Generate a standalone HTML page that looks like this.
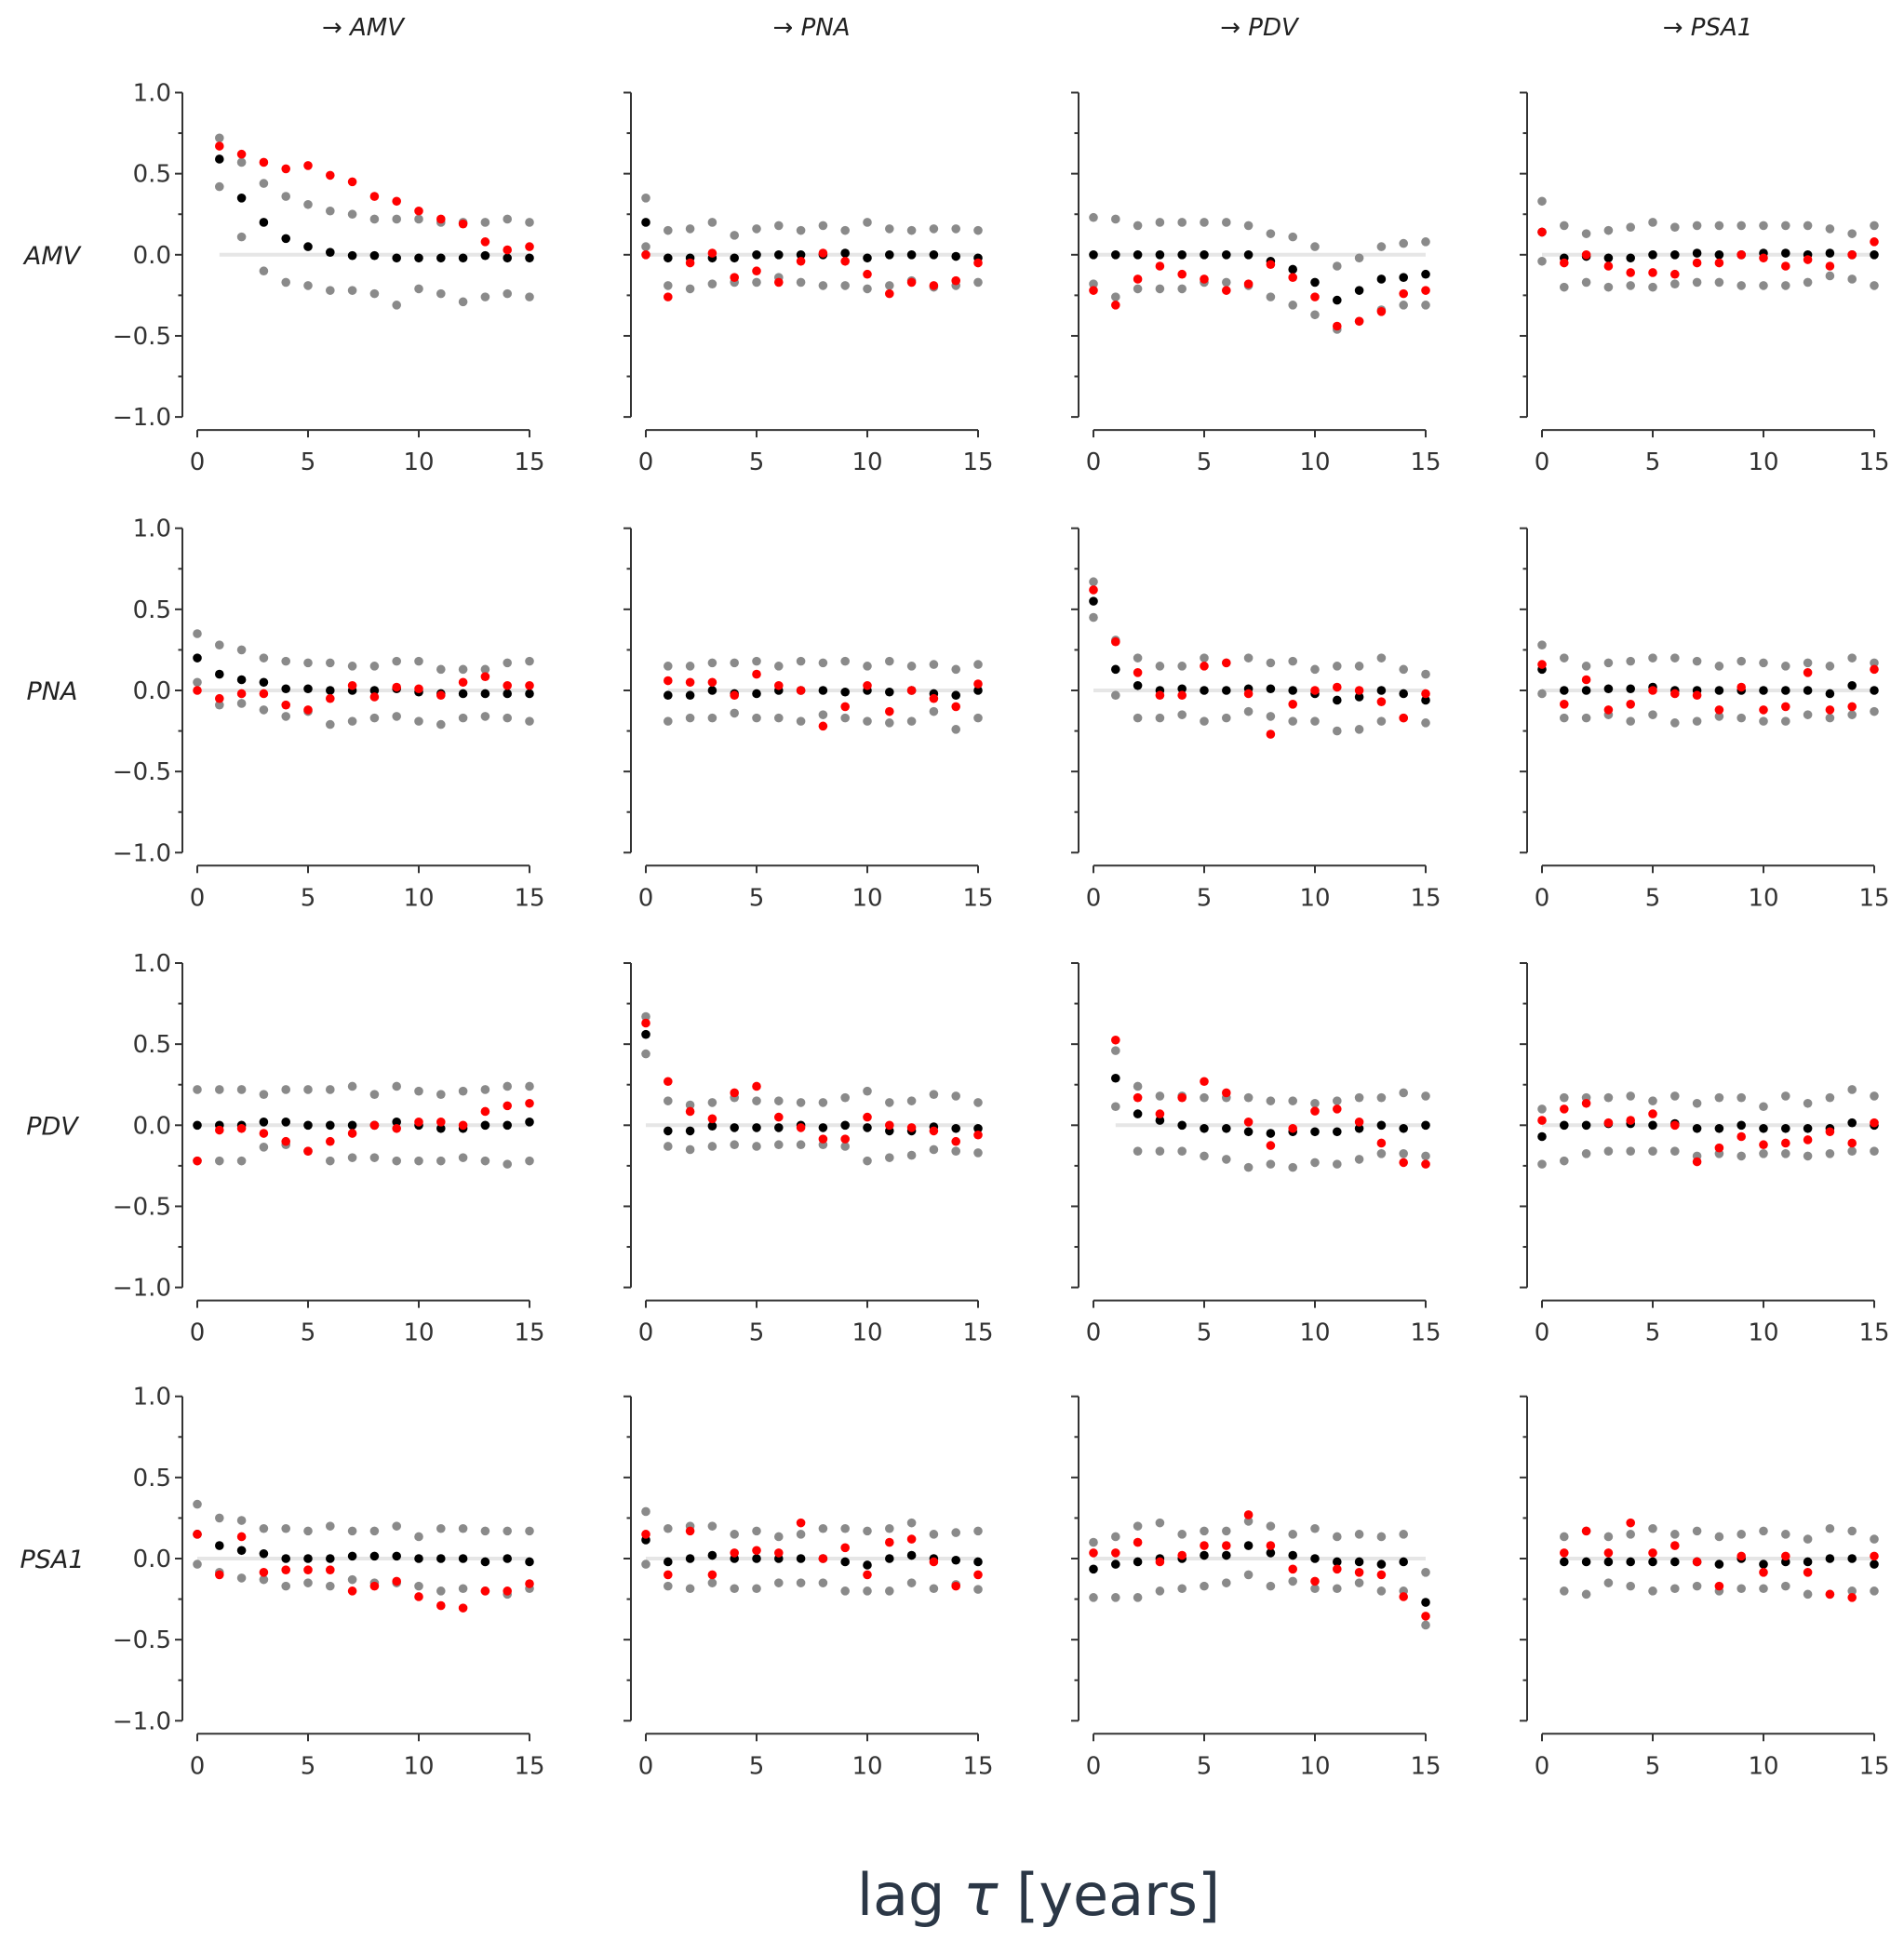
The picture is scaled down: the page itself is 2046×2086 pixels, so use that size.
<!DOCTYPE html>
<html><head><meta charset="utf-8"><style>
html,body{margin:0;padding:0;background:#fff;}
svg{display:block;}
.tick{font-family:"DejaVu Sans","Liberation Sans",sans-serif;font-size:26px;fill:#333;}
</style></head><body>
<svg id="chart" width="2046" height="2086" viewBox="0 0 2046 2086" xmlns="http://www.w3.org/2000/svg">
<text x="1116" y="2058" text-anchor="middle" font-family="DejaVu Sans, Liberation Sans, sans-serif" font-size="62" fill="#2b3746">lag <tspan font-style="italic">τ</tspan> [years]</text>
</svg>
<script>
const names = ["AMV","PNA","PDV","PSA1"];
const yTicks = [1.0,0.5,0.0,-0.5,-1.0];
const yTickLabels = ["1.0","0.5","0.0","\u22120.5","\u22121.0"];
const xTicks = [0,5,10,15];
// lag start per panel (row-major: row = source, col = target)
const lagStart = [1,0,0,0, 0,1,0,0, 0,0,1,0, 0,0,0,1];
const black = [
[0.59,0.35,0.20,0.10,0.05,0.015,-0.005,-0.005,-0.02,-0.02,-0.02,-0.02,-0.005,-0.02,-0.02],
[0.20,-0.02,-0.02,-0.02,-0.02,0,0,0,0,0.01,-0.02,0,0,0,-0.01,-0.02],
[0,0,0,0,0,0,0,0,-0.04,-0.09,-0.17,-0.28,-0.22,-0.15,-0.14,-0.12],
[0.14,-0.02,-0.01,-0.02,-0.02,0,0,0.01,0,0,0.01,0.01,0,0.01,0,0],
[0.20,0.10,0.066,0.05,0.01,0.01,0,0,0,0.01,-0.01,-0.02,-0.02,-0.02,-0.02,-0.02],
[-0.03,-0.03,0,-0.02,-0.02,0,0,0,-0.01,0,-0.01,0,-0.02,-0.03,0],
[0.55,0.13,0.03,0,0.01,0,0,0.01,0.01,0,-0.02,-0.06,-0.04,0,-0.02,-0.06],
[0.13,0,0,0.01,0.01,0.02,0,0,0,0,0,0,0,-0.02,0.03,0],
[0,0,0,0.02,0.02,0,0,0,0,0.02,0,-0.02,-0.02,0,0,0.02],
[0.56,-0.035,-0.035,-0.005,-0.015,-0.015,-0.015,0,-0.015,0,-0.015,-0.035,-0.035,-0.01,-0.02,-0.02],
[0.29,0.07,0.03,0,-0.02,-0.02,-0.04,-0.05,-0.04,-0.04,-0.04,-0.02,0,-0.02,0],
[-0.07,0,0,0.01,0.01,0,0.01,-0.02,-0.02,0,-0.02,-0.02,-0.02,-0.02,0.015,0],
[0.15,0.08,0.05,0.03,0,0,0,0.015,0.015,0.015,0,0,0,-0.02,0,-0.02],
[0.115,-0.02,0,0.02,0,0,0,0,0,-0.02,-0.04,0,0.02,0,-0.01,-0.02],
[-0.065,-0.035,-0.02,0,0,0.02,0.02,0.08,0.035,0.02,0,-0.02,-0.02,-0.035,-0.02,-0.27],
[-0.02,-0.02,-0.02,-0.02,-0.02,-0.02,-0.02,-0.035,0,-0.035,-0.02,-0.02,0,0,-0.035]
];
const red = [
[0.67,0.62,0.57,0.53,0.55,0.49,0.45,0.36,0.33,0.27,0.22,0.19,0.08,0.03,0.05],
[0,-0.26,-0.05,0.01,-0.14,-0.10,-0.17,-0.04,0.01,-0.04,-0.12,-0.24,-0.17,-0.19,-0.16,-0.05],
[-0.22,-0.31,-0.15,-0.07,-0.12,-0.15,-0.22,-0.18,-0.06,-0.14,-0.26,-0.44,-0.41,-0.35,-0.24,-0.22],
[0.14,-0.05,0,-0.07,-0.11,-0.11,-0.12,-0.05,-0.05,0,-0.02,-0.07,-0.03,-0.07,0,0.08],
[0,-0.05,-0.02,-0.02,-0.09,-0.12,-0.05,0.03,-0.04,0.02,0.01,-0.03,0.05,0.085,0.03,0.03],
[0.06,0.05,0.05,-0.03,0.10,0.03,0,-0.22,-0.10,0.03,-0.13,0,-0.05,-0.10,0.04],
[0.62,0.30,0.11,-0.03,-0.03,0.15,0.17,-0.02,-0.27,-0.085,0,0.02,0,-0.07,-0.17,-0.02],
[0.16,-0.085,0.066,-0.12,-0.085,0,-0.02,-0.03,-0.12,0.02,-0.12,-0.10,0.11,-0.12,-0.10,0.13],
[-0.22,-0.03,-0.02,-0.05,-0.10,-0.16,-0.10,-0.05,0,-0.02,0.02,0.02,0,0.085,0.12,0.135],
[0.63,0.27,0.085,0.04,0.20,0.24,0.05,-0.015,-0.085,-0.085,0.05,0,-0.015,-0.035,-0.10,-0.06],
[0.525,0.17,0.07,0.17,0.27,0.20,0.02,-0.125,-0.02,0.087,0.10,0.02,-0.11,-0.23,-0.24],
[0.03,0.10,0.135,0.015,0.03,0.07,0,-0.225,-0.14,-0.07,-0.12,-0.11,-0.09,-0.04,-0.11,0.015],
[0.15,-0.10,0.135,-0.085,-0.07,-0.07,-0.07,-0.20,-0.17,-0.14,-0.235,-0.29,-0.305,-0.20,-0.20,-0.155],
[0.15,-0.10,0.17,-0.10,0.035,0.05,0.035,0.22,0,0.067,-0.10,0.10,0.12,-0.02,-0.17,-0.10],
[0.035,0.035,0.10,-0.02,0.02,0.08,0.08,0.27,0.08,-0.065,-0.14,-0.065,-0.085,-0.10,-0.235,-0.355],
[0.035,0.17,0.035,0.22,0.035,0.08,-0.02,-0.17,0.015,-0.085,0.015,-0.085,-0.22,-0.24,0.015]
];
const grayUpper = [
[0.72,0.57,0.44,0.36,0.31,0.27,0.25,0.22,0.22,0.22,0.20,0.20,0.20,0.22,0.20],
[0.35,0.15,0.16,0.20,0.12,0.16,0.18,0.15,0.18,0.15,0.20,0.16,0.15,0.16,0.16,0.15],
[0.23,0.22,0.18,0.20,0.20,0.20,0.20,0.18,0.13,0.11,0.05,-0.07,-0.02,0.05,0.07,0.08],
[0.33,0.18,0.13,0.15,0.17,0.20,0.17,0.18,0.18,0.18,0.18,0.18,0.18,0.16,0.13,0.18],
[0.35,0.28,0.25,0.20,0.18,0.17,0.17,0.15,0.15,0.18,0.18,0.13,0.13,0.13,0.17,0.18],
[0.15,0.15,0.17,0.17,0.18,0.15,0.18,0.17,0.18,0.15,0.18,0.15,0.16,0.13,0.16],
[0.67,0.31,0.20,0.15,0.15,0.20,0.17,0.20,0.17,0.18,0.13,0.15,0.15,0.20,0.13,0.10],
[0.28,0.20,0.15,0.17,0.18,0.20,0.20,0.18,0.15,0.18,0.17,0.15,0.17,0.15,0.20,0.17],
[0.22,0.22,0.22,0.19,0.22,0.22,0.22,0.24,0.19,0.24,0.21,0.19,0.21,0.22,0.24,0.24],
[0.67,0.15,0.125,0.14,0.17,0.15,0.15,0.14,0.14,0.17,0.21,0.14,0.15,0.19,0.18,0.14],
[0.46,0.24,0.18,0.18,0.17,0.17,0.17,0.15,0.15,0.135,0.15,0.17,0.17,0.20,0.18],
[0.10,0.17,0.17,0.17,0.18,0.15,0.18,0.135,0.17,0.17,0.115,0.18,0.135,0.17,0.22,0.18],
[0.335,0.25,0.235,0.185,0.185,0.17,0.20,0.17,0.17,0.20,0.135,0.185,0.185,0.17,0.17,0.17],
[0.29,0.185,0.20,0.20,0.15,0.17,0.135,0.15,0.185,0.185,0.17,0.185,0.22,0.15,0.16,0.17],
[0.10,0.135,0.20,0.22,0.15,0.17,0.17,0.23,0.20,0.15,0.185,0.135,0.15,0.135,0.15,-0.085],
[0.135,0.17,0.135,0.15,0.185,0.15,0.17,0.135,0.15,0.17,0.15,0.12,0.185,0.17,0.12]
];
const grayLower = [
[0.42,0.11,-0.10,-0.17,-0.19,-0.22,-0.22,-0.24,-0.31,-0.21,-0.24,-0.29,-0.26,-0.24,-0.26],
[0.05,-0.19,-0.21,-0.18,-0.17,-0.17,-0.14,-0.17,-0.19,-0.19,-0.21,-0.19,-0.16,-0.20,-0.19,-0.17],
[-0.18,-0.26,-0.21,-0.21,-0.21,-0.17,-0.17,-0.19,-0.26,-0.31,-0.37,-0.46,-0.41,-0.34,-0.31,-0.31],
[-0.04,-0.20,-0.17,-0.20,-0.19,-0.20,-0.18,-0.17,-0.17,-0.19,-0.19,-0.19,-0.17,-0.13,-0.15,-0.19],
[0.05,-0.09,-0.08,-0.12,-0.16,-0.13,-0.21,-0.19,-0.17,-0.16,-0.19,-0.21,-0.17,-0.16,-0.17,-0.19],
[-0.19,-0.17,-0.17,-0.14,-0.17,-0.17,-0.19,-0.15,-0.17,-0.19,-0.20,-0.19,-0.13,-0.24,-0.17],
[0.45,-0.03,-0.17,-0.17,-0.15,-0.19,-0.17,-0.13,-0.16,-0.19,-0.19,-0.25,-0.24,-0.19,-0.17,-0.20],
[-0.02,-0.17,-0.17,-0.15,-0.19,-0.15,-0.20,-0.19,-0.16,-0.17,-0.19,-0.19,-0.15,-0.17,-0.15,-0.13],
[-0.22,-0.22,-0.22,-0.135,-0.12,-0.16,-0.22,-0.20,-0.20,-0.22,-0.22,-0.22,-0.20,-0.22,-0.24,-0.22],
[0.44,-0.13,-0.15,-0.13,-0.12,-0.13,-0.12,-0.12,-0.12,-0.13,-0.22,-0.20,-0.185,-0.15,-0.16,-0.17],
[0.115,-0.16,-0.16,-0.16,-0.19,-0.21,-0.26,-0.24,-0.26,-0.23,-0.24,-0.21,-0.175,-0.175,-0.19],
[-0.24,-0.22,-0.175,-0.16,-0.16,-0.16,-0.16,-0.19,-0.175,-0.19,-0.175,-0.175,-0.19,-0.175,-0.16,-0.16],
[-0.035,-0.085,-0.12,-0.13,-0.17,-0.15,-0.17,-0.13,-0.15,-0.15,-0.17,-0.20,-0.185,-0.20,-0.22,-0.185],
[-0.035,-0.17,-0.185,-0.15,-0.185,-0.185,-0.15,-0.15,-0.15,-0.20,-0.20,-0.20,-0.15,-0.185,-0.16,-0.19],
[-0.24,-0.24,-0.24,-0.20,-0.185,-0.17,-0.15,-0.10,-0.17,-0.14,-0.185,-0.185,-0.15,-0.20,-0.20,-0.41],
[-0.20,-0.22,-0.15,-0.17,-0.20,-0.185,-0.17,-0.20,-0.185,-0.185,-0.17,-0.22,-0.22,-0.20,-0.20]
];

const NS = "http://www.w3.org/2000/svg";
const svg = document.getElementById("chart");
const colSpine = [196, 678, 1159, 1641];
const rowTop = [99.5, 567.7, 1035, 1500.7];
const plotH = 348.6;
function mk(tag, attrs, parent) {
  const e = document.createElementNS(NS, tag);
  for (const k in attrs) e.setAttribute(k, attrs[k]);
  (parent || svg).appendChild(e);
  return e;
}
for (let c = 0; c < 4; c++) {
  const t = mk("text", {x: colSpine[c] + 194, y: 38, "text-anchor": "middle", "font-family": "DejaVu Sans, Liberation Sans, sans-serif", "font-size": 26, fill: "#222"});
  
  
  t.innerHTML = '\u2192 <tspan font-style="italic">' + names[c] + '</tspan>';
}
for (let r = 0; r < 4; r++) {
  for (let c = 0; c < 4; c++) {
    const p = r * 4 + c;
    const sx = colSpine[c];
    const top = rowTop[r];
    const xScale = v => sx + 16 + v * (357 / 15);
    const yScale = v => top + (1 - v) / 2 * plotH;
    const g = mk("g", {});
    
    
    // y spine
    const ys = mk("line", {x1: sx, x2: sx, y1: yScale(1), y2: yScale(-1), stroke: "#333", "stroke-width": 2}, g);
    
    
    for (let k = 0; k <= 8; k++) {
      const v = 1 - k * 0.25;
      const major = k % 2 === 0;
      mk("line", {x1: sx - (major ? 8 : 4.5), x2: sx, y1: yScale(v), y2: yScale(v), stroke: "#333", "stroke-width": 2}, g);
    }
    if (c === 0) {
      yTicks.forEach((v, i) => {
        const t = mk("text", {x: sx - 12, y: yScale(v) + 9, "text-anchor": "end", class: "tick"}, g);
        
        
        t.textContent = yTickLabels[i];
      });
      const rl = mk("text", {x: 56, y: yScale(0) + 10, "text-anchor": "middle", "font-family": "DejaVu Sans, Liberation Sans, sans-serif", "font-size": 27, "font-style": "italic", fill: "#222"}, g);
      
      
      rl.textContent = names[r];
    }
    // x spine
    const xb = yScale(-1) + 14;
    const xs = mk("line", {x1: xScale(0), x2: xScale(15), y1: xb, y2: xb, stroke: "#333", "stroke-width": 2}, g);
    
    
    xTicks.forEach(v => {
      mk("line", {x1: xScale(v), x2: xScale(v), y1: xb, y2: xb + 8, stroke: "#333", "stroke-width": 2}, g);
      const t = mk("text", {x: xScale(v), y: xb + 43, "text-anchor": "middle", class: "tick"}, g);
      
      
      t.textContent = String(v);
    });
    const s0 = lagStart[p];
    const zl = mk("line", {x1: xScale(s0), x2: xScale(15), y1: yScale(0), y2: yScale(0), stroke: "#e6e6e6", "stroke-width": 4}, g);
    
    
    const series = [[grayUpper[p], "#8a8a8a", "upper-bound"], [grayLower[p], "#8a8a8a", "lower-bound"], [black[p], "#000", "black-series"], [red[p], "#f00", "red-series"]];
    series.forEach(([vals, col, nm]) => {
      vals.forEach((v, i) => {
        const d = mk("circle", {cx: xScale(s0 + i), cy: yScale(v), r: 4.8, fill: col}, g);
        
        
      });
    });
  }
}
</script>
</body></html>
